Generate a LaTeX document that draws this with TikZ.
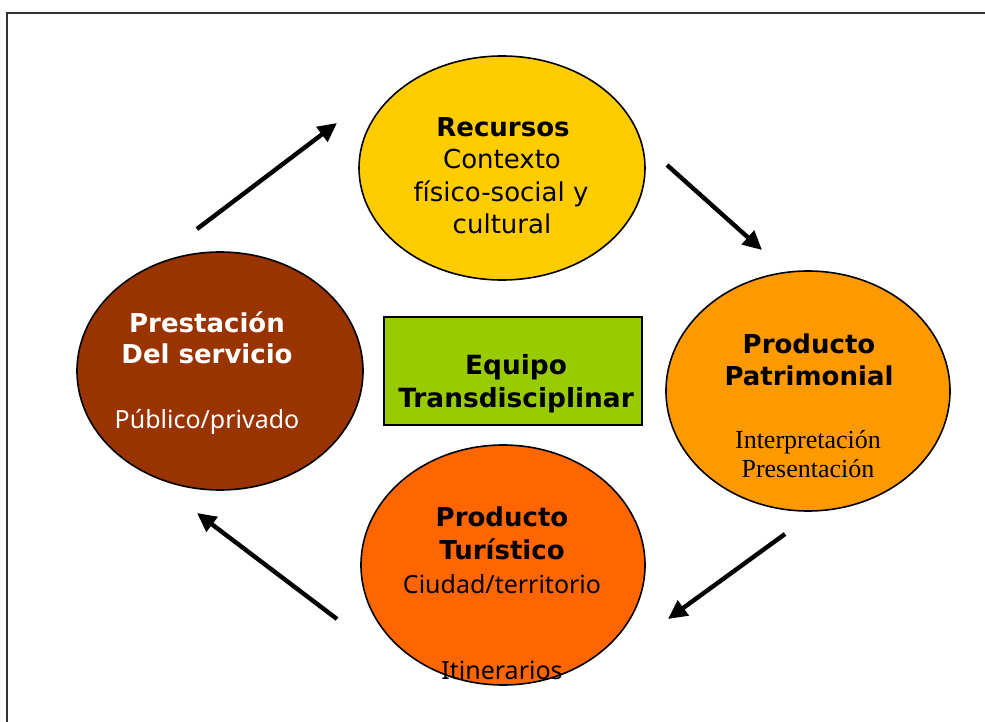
\documentclass[tikz,border=0pt]{standalone}
\usepackage{fontspec}
\setmainfont{DejaVu Sans}
\newfontfamily\timesfont{Liberation Serif}
\newfontfamily\notofont{Noto Sans}
\usetikzlibrary{shapes.geometric,arrows.meta}
\definecolor{recursos_col}{HTML}{FFCC00}
\definecolor{patrimonio_col}{HTML}{FF9900}
\definecolor{prestacion_col}{HTML}{993300}
\definecolor{turistico_col}{HTML}{FF6600}
\definecolor{equipo_col}{HTML}{99CC00}

\begin{document}
\begin{tikzpicture}[x=0.5pt,y=-0.5pt,
	ellipse_node/.style={ellipse,draw,line width=0.8pt,inner sep=0pt},
	bold_text/.style={anchor=base,inner sep=0pt,font=\fontsize{13}{16}\selectfont\bfseries},
	plain_text/.style={anchor=base,inner sep=0pt,font=\fontsize{13}{16}\selectfont},
	noto_text/.style={anchor=base,inner sep=0pt,font=\notofont\fontsize{12.5}{15}\selectfont},
	serif_text/.style={anchor=base,inner sep=0pt,font=\timesfont\fontsize{13}{16}\selectfont},
	arrow_line/.style={line width=2.2pt,-{Triangle[length=9.5pt,width=9pt]}}]
	\useasboundingbox (0,0) rectangle (985,722);
	\draw[line width=1pt,black!80] (7,730) |- (990,13);
	\node[ellipse_node,fill=recursos_col,minimum width=143pt,minimum height=112pt] (rec) at (502,168) {};
	\node[ellipse_node,fill=patrimonio_col,minimum width=142pt,minimum height=120pt] (pat) at (808,391) {};
	\node[ellipse_node,fill=prestacion_col,minimum width=143pt,minimum height=119pt] (pre) at (220,371) {};
	\node[ellipse_node,fill=turistico_col,minimum width=142pt,minimum height=120pt] (tur) at (503,565) {};
	\node[draw,line width=0.6pt,fill=equipo_col,minimum width=129pt,minimum height=54pt] (equ) at (513,371) {};
	% recursos
	\node[bold_text] (rec1) at (503,137) {Recursos};
	\node[plain_text] (rec2) at (502,169) {Contexto};
	\node[plain_text] (rec3) at (501,201) {físico-social y};
	\node[plain_text] (rec4) at (502,233) {cultural};
	% producto patrimonial
	\node[bold_text] (pat1) at (809,353) {Producto};
	\node[bold_text] (pat2) at (809,385) {Patrimonial};
	\node[serif_text] (pat3) at (808,448) {Interpretación};
	\node[serif_text] (pat4) at (808,477) {Presentación};
	% prestacion
	\node[bold_text,text=white] (pre1) at (207,332) {Prestación};
	\node[bold_text,text=white] (pre2) at (207,363) {Del servicio};
	\node[noto_text,text=white] (pre3) at (207,428) {Público/privado};
	% producto turistico
	\node[bold_text] (tur1) at (502,526) {Producto};
	\node[bold_text] (tur2) at (502,559) {Turístico};
	\node[noto_text] (tur3) at (502,593) {Ciudad/territorio};
	\node[noto_text] (tur4) at (502,679) {Itinerarios};
	% equipo
	\node[bold_text,font=\fontsize{13.2}{16}\selectfont\bfseries] (equ1) at (516,374) {Equipo};
	\node[bold_text,font=\fontsize{13.2}{16}\selectfont\bfseries] (equ2) at (516,407) {Transdisciplinar};
	% arrows
	\coordinate (a1) at (197,229);
	\coordinate (b1) at (337,123);
	\coordinate (a2) at (667,165);
	\coordinate (b2) at (762,250);
	\coordinate (a3) at (785,534);
	\coordinate (b3) at (668,619);
	\coordinate (a4) at (337,619);
	\coordinate (b4) at (197,513);
	\draw[arrow_line] (a1) -- (b1);
	\draw[arrow_line] (a2) -- (b2);
	\draw[arrow_line] (a3) -- (b3);
	\draw[arrow_line] (a4) -- (b4);
\end{tikzpicture}
\end{document}
